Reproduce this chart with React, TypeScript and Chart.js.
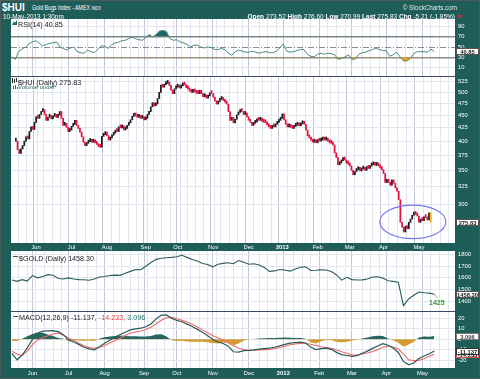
import { useEffect, useRef } from "react";
import { Chart, registerables } from "chart.js";
Chart.register(...registerables);

const FONT = '"Liberation Sans", Arial, sans-serif';
const TEAL = "#1f5d59";

// ---- trading-day axis (index 0 = 15-May-2012) ----
const monthStarts = [12, 33, 54, 77, 96, 117, 138, 158, 179, 198, 218, 239];
const monthLabels = ["Jun", "Jul", "Aug", "Sep", "Oct", "Nov", "Dec", "2013", "Feb", "Mar", "Apr", "May"];
const xMin = -0.5;
const xMax = 258;

// ---- $HUI daily closes ----
const huiClose = [
  400, 385, 378, 386, 392, 400, 408, 404, 418, 427,
  422, 436, 447, 444, 452, 458, 462, 452, 440, 446,
  450, 443, 448, 452, 446, 451, 458, 444, 430, 434,
  426, 418, 421, 428, 432, 440, 430, 424, 417, 408,
  398, 392, 396, 399, 402, 398, 400, 397, 394, 390,
  389, 409, 412, 417, 410, 402, 406, 411, 415, 420,
  418, 427, 425, 429, 421, 424, 430, 435, 441, 448,
  453, 449, 446, 450, 444, 447, 441, 444, 452, 458,
  468, 477, 470, 474, 486, 500, 517, 512, 518, 521,
  524, 516, 505, 497, 508, 512, 517, 510, 515, 519,
  517, 511, 508, 503, 500, 506, 501, 498, 497, 505,
  497, 490, 494, 487, 492, 498, 497, 489, 481, 474,
  480, 484, 487, 482, 478, 474, 458, 440, 446, 435,
  442, 451, 456, 462, 458, 452, 455, 447, 440, 436,
  430, 434, 437, 442, 440, 444, 438, 436, 435, 431,
  427, 424, 429, 427, 432, 436, 440, 444, 453, 441,
  432, 427, 429, 426, 424, 428, 430, 432, 429, 433,
  435, 432, 421, 410, 406, 402, 398, 401, 397, 403,
  400, 402, 405, 402, 404, 400, 397, 396, 393, 379,
  371, 359, 362, 366, 370, 367, 362, 360, 357, 350,
  343, 348, 351, 355, 349, 352, 354, 350, 356, 353,
  357, 359, 361, 358, 362, 357, 354, 351, 345, 331,
  336, 331, 327, 335, 330, 323, 318, 306, 276, 270,
  264, 271, 268, 276, 280, 285, 289, 286, 284, 276,
  280, 278, 283, 282, 279, 288, 275.83,
];
const huiOpen = 273.52;
const huiHigh = 276.6;
const huiLow = 270.99;
const huiChg = -5.21;
const huiChgPct = -1.85;
const priceTicks = [300, 325, 350, 375, 400, 425, 450, 475, 500, 525];
const priceMin = 251;
const priceMax = 538.9;
const ellipseDays = [215.8, 255];
const ellipseValues = [256, 298.6];

// ---- RSI(14), one value every 2 trading days ----
const rsiStep = 2;
const rsi14 = [
  31, 26, 42, 46, 50, 56, 60, 62, 57, 52,
  55, 57, 58, 60, 50, 47, 44, 48, 50, 41,
  39, 38, 44, 41, 39, 45, 52, 52, 47, 54,
  58, 59, 62, 63, 66, 69, 66, 64, 63, 68,
  74, 69, 74, 81, 82, 80, 66, 63, 64, 60,
  58, 55, 50, 53, 54, 50, 48, 50, 49, 45,
  45, 47, 45, 38, 34, 41, 44, 42, 40, 40,
  42, 40, 38, 40, 41, 39, 39, 42, 48, 56,
  42, 40, 41, 43, 45, 45, 36, 32, 31, 36,
  38, 36, 38, 37, 35, 26, 28, 31, 35, 26,
  27, 36, 39, 40, 43, 45, 48, 45, 43, 43,
  32, 35, 40, 31, 23, 23, 28, 37, 41, 41,
  41, 40, 46, 40.85,
];
const rsiTicks = [10, 30, 50, 70, 90];

// ---- $GOLD and MACD, one value every 3 trading days ----
const lineStep = 3;
const gold = [
  1582, 1570, 1585, 1572, 1620, 1600, 1612, 1628, 1622, 1595,
  1590, 1600, 1590, 1585, 1584, 1580, 1590, 1608, 1612, 1620,
  1624, 1622, 1640, 1656, 1672, 1670, 1700, 1733, 1760, 1770,
  1774, 1777, 1783, 1795, 1777, 1758, 1746, 1724, 1716, 1695,
  1718, 1725, 1730, 1722, 1750, 1735, 1718, 1722, 1712, 1690,
  1656, 1660, 1672, 1668, 1658, 1676, 1692, 1695, 1664, 1666,
  1670, 1668, 1655, 1625, 1580, 1605, 1585, 1582, 1583, 1590,
  1608, 1610, 1598, 1575, 1570, 1562, 1360, 1418, 1450, 1478,
  1472, 1468, 1458.3,
];
const goldTicks = [1400, 1500, 1600, 1700, 1800];
const goldTargetDays = [246, 248];
const goldTarget = [1458.3, 1425];

const macdLine = [
  -13.3, -19.5, -15, -8, 0, 5.9, 7.8, 8, 8.3, 7.3,
  4.5, -0.5, -2.5, -4.8, -7.6, -9.1, -10, -7, -3.8, -0.8,
  1.9, 4.6, 6.8, 9, 9.9, 10.6, 12, 14.6, 19.5, 23,
  23.3, 20.2, 18, 16.8, 14.5, 12.2, 9.5, 6.7, 3.5, -0.2,
  -2.5, -3.9, -6.5, -11.8, -12.2, -10.7, -10.5, -10, -9.3, -8.8,
  -8.4, -7.5, -6.2, -4.8, -3.6, -3, -2.6, -3.5, -7.4, -9.8,
  -8.8, -8.4, -9.5, -12.4, -14.5, -15.4, -16.2, -15.5, -13.2, -11.2,
  -8.6, -6.4, -4.2, -5.6, -8.2, -12.5, -21, -24.3, -22.5, -18.3,
  -15.8, -13.8, -11.137,
];
const signalLine = [
  -11.4, -14, -15.5, -11, -5, -0.5, 1.5, 3.5, 5, 6,
  4, 1.4, -1.2, -3.6, -6.2, -7.9, -8.5, -7.8, -5.8, -3.5,
  -1.2, 1, 3.6, 6, 7, 8, 9.4, 11.5, 14.8, 18.2,
  20.5, 21, 19.6, 18.2, 16.5, 14.4, 11.8, 9, 6.3, 3.4,
  1.5, -0.8, -3.4, -6.2, -8.3, -9.7, -10.4, -10.3, -10, -9.8,
  -9.6, -8.8, -7.7, -6.6, -5.1, -4.3, -3.8, -4, -4.6, -5.8,
  -7, -7.7, -8.6, -10.2, -11.8, -13.2, -15, -15, -14, -13,
  -11.5, -9.8, -7.5, -6.4, -7.4, -9.2, -14, -19.5, -20.3, -20,
  -18.5, -16.2, -14.233,
];
const macdHist = [
  -1.5, -1.5, 0.5, 3, 5, 6.4, 6.3, 4.5, 3.3, 1.3,
  0.5, -1.9, -1.3, -1.2, -1.4, -1.2, -1.5, 0.8, 2, 2.7,
  3.1, 3.6, 3.2, 3, 2.9, 2.6, 2.6, 3.1, 4.7, 4.8,
  2.8, -0.8, -1.6, -1.4, -2, -2.2, -2.3, -2.3, -2.8, -3.6,
  -4, -3.1, -3.1, -5.6, -3.9, -1, -0.1, 0.3, 0.7, 1,
  1.2, 1.3, 1.5, 1.8, 1.5, 1.3, 1.2, 0.5, -2.8, -4,
  -1.8, -0.7, -0.9, -2.2, -2.7, -2.2, -1.2, -0.5, 0.8, 1.8,
  2.9, 3.4, 3.3, 0.8, -0.8, -3.3, -7, -4.8, -2.2, 1.7,
  2.7, 2.4, 3.096,
];
const macdTicks = [-20, -10, 0, 10, 20];

// ---------------------------------------------------------------------------
const last = <T,>(a: T[]) => a[a.length - 1];

function xAxis(showLabels: boolean, height: number, pad: number): any {
  return {
    type: "linear",
    min: xMin,
    max: xMax,
    afterBuildTicks: (s: any) => {
      const t: number[] = [...monthStarts];
      for (let v = 4; v < xMax; v += 5) if (!monthStarts.some((m) => Math.abs(m - v) < 2)) t.push(v);
      s.ticks = t.sort((a, b) => a - b).map((value) => ({ value }));
    },
    grid: {
      drawTicks: false,
      color: (c: any) => (c.tick && monthStarts.includes(c.tick.value) ? "#c2c6d8" : "#e3e5ef"),
      lineWidth: 1,
    },
    border: { display: false },
    ticks: {
      display: showLabels,
      autoSkip: false,
      maxRotation: 0,
      minRotation: 0,
      padding: pad,
      color: "#ffffff",
      font: (c: any) => ({
        size: 5.8,
        family: FONT,
        weight: c.tick && monthLabels[monthStarts.indexOf(c.tick.value)] === "2013" ? "bold" : "normal",
      }),
      callback: (v: number) => {
        const k = monthStarts.indexOf(v);
        return k >= 0 ? monthLabels[k] : "";
      },
    },
    afterFit: (s: any) => {
      s.height = height;
      s.paddingLeft = 0;
      s.paddingRight = 0;
    },
  };
}

function yAxis(type: string, min: number, max: number, ticks: number[], gridColor?: any, gridWidth?: any): any {
  return {
    type,
    position: "right",
    min,
    max,
    afterBuildTicks: (s: any) => {
      s.ticks = ticks.map((value) => ({ value }));
    },
    grid: { drawTicks: false, color: gridColor || "#e3e5ef", lineWidth: gridWidth || 1 },
    border: { display: false },
    ticks: {
      color: "#ffffff",
      padding: 3,
      font: { size: 5.8, family: FONT },
      callback: (v: number) => String(v),
    },
    afterFit: (s: any) => {
      s.width = 25;
      s.paddingTop = 0;
      s.paddingBottom = 0;
    },
  };
}

type Box = { value: number; text: string; stroke: string; color: string };

function panelPlugin(topLine: boolean, boxes: Box[], extra?: (chart: any) => void): any {
  return {
    id: "panel",
    beforeDraw(chart: any) {
      const { ctx, chartArea: a } = chart;
      ctx.save();
      ctx.fillStyle = "#ffffff";
      ctx.fillRect(a.left, a.top, a.right - a.left, a.bottom - a.top);
      ctx.restore();
    },
    afterDatasetsDraw(chart: any) {
      if (extra) extra(chart);
    },
    afterDraw(chart: any) {
      const { ctx, chartArea: a, scales } = chart;
      ctx.save();
      if (topLine) {
        ctx.strokeStyle = "#3b4868";
        ctx.lineWidth = 1;
        ctx.beginPath();
        ctx.moveTo(a.left, a.top + 0.5);
        ctx.lineTo(a.right, a.top + 0.5);
        ctx.stroke();
      }
      for (const b of boxes) {
        const py = scales.y.getPixelForValue(b.value);
        const w = 23;
        const h = 7;
        const x0 = a.right + 1;
        const y0 = Math.round(py - h / 2);
        ctx.fillStyle = "#ffffff";
        ctx.fillRect(x0, y0, w, h);
        ctx.strokeStyle = b.stroke;
        ctx.lineWidth = 1;
        ctx.strokeRect(x0 + 0.5, y0 + 0.5, w - 1, h - 1);
        ctx.fillStyle = b.color;
        ctx.font = `bold 5.8px ${FONT}`;
        ctx.textAlign = "center";
        ctx.textBaseline = "middle";
        ctx.fillText(b.text, x0 + w / 2, y0 + h / 2 + 0.5);
      }
      ctx.restore();
    },
  };
}

const baseOptions = (scales: any, padLeft = 11): any => ({
  responsive: false,
  animation: false,
  events: [],
  layout: { padding: { left: padLeft, right: 0, top: 0, bottom: 0 } },
  plugins: { legend: { display: false }, tooltip: { enabled: false } },
  scales,
});

export default function App() {
  const rsiRef = useRef<HTMLCanvasElement>(null);
  const priceRef = useRef<HTMLCanvasElement>(null);
  const goldRef = useRef<HTMLCanvasElement>(null);
  const macdRef = useRef<HTMLCanvasElement>(null);

  useEffect(() => {
    const rsiPts = rsi14.map((v, k) => ({ x: k * rsiStep, y: v }));
    const rsiChart = new Chart(rsiRef.current as HTMLCanvasElement, {
      type: "line",
      data: {
        datasets: [
          {
            data: rsiPts,
            borderColor: "#4a8a84",
            borderWidth: 1,
            pointRadius: 0,
            tension: 0,
            order: 0,
            fill: { target: { value: 70 }, above: "#1d6a62", below: "rgba(0,0,0,0)" },
          } as any,
          {
            data: rsiPts,
            borderWidth: 0,
            borderColor: "rgba(0,0,0,0)",
            pointRadius: 0,
            order: 1,
            fill: { target: { value: 30 }, above: "rgba(0,0,0,0)", below: "#eba420" },
          } as any,
        ],
      },
      options: baseOptions({
        x: xAxis(false, 0, 0),
        y: yAxis(
          "linear",
          -6,
          104,
          rsiTicks,
          (c: any) => (c.tick && (c.tick.value === 30 || c.tick.value === 70) ? "#8c8c8c" : c.tick && c.tick.value === 50 ? "rgba(0,0,0,0)" : "#e3e5ef"),
          (c: any) => (c.tick && (c.tick.value === 30 || c.tick.value === 70) ? 1.5 : 1)
        ),
      }),
      plugins: [
        panelPlugin(false, [{ value: last(rsi14), text: last(rsi14).toFixed(2), stroke: "#555", color: "#222" }], undefined),
        {
          id: "mid",
          beforeDatasetsDraw(chart: any) {
            const { ctx, chartArea: a, scales } = chart;
            const y = Math.round(scales.y.getPixelForValue(50)) + 0.5;
            ctx.save();
            ctx.strokeStyle = "#8c8c8c";
            ctx.lineWidth = 1;
            ctx.setLineDash([6, 2, 1, 2]);
            ctx.beginPath();
            ctx.moveTo(a.left, y);
            ctx.lineTo(a.right, y);
            ctx.stroke();
            ctx.restore();
          },
        } as any,
      ],
    });

    const barData = huiClose.map((c, i) => ({ x: i, y: [i > 0 ? huiClose[i - 1] : c, c] }));
    const barColors = huiClose.map((c, i) =>
      i === huiClose.length - 1 ? "#f2b422" : i > 0 && c < huiClose[i - 1] ? "#e2103e" : "#1c1c1c"
    );
    const priceChart = new Chart(priceRef.current as HTMLCanvasElement, {
      type: "bar",
      data: {
        datasets: [
          {
            data: barData as any,
            backgroundColor: barColors,
            borderWidth: 0,
            barThickness: 1.1,
            minBarLength: 3,
            grouped: false,
          } as any,
        ],
      },
      options: baseOptions({
        x: xAxis(true, 8, 1),
        y: yAxis("logarithmic", priceMin, priceMax, priceTicks),
      }),
      plugins: [
        panelPlugin(true, [{ value: last(huiClose), text: last(huiClose).toFixed(2), stroke: "#555", color: "#222" }], (chart: any) => {
          const { ctx, scales } = chart;
          const x1 = scales.x.getPixelForValue(ellipseDays[0]);
          const x2 = scales.x.getPixelForValue(ellipseDays[1]);
          const y1 = scales.y.getPixelForValue(ellipseValues[1]);
          const y2 = scales.y.getPixelForValue(ellipseValues[0]);
          ctx.save();
          ctx.strokeStyle = "#7377ee";
          ctx.lineWidth = 1.2;
          ctx.beginPath();
          ctx.ellipse((x1 + x2) / 2, (y1 + y2) / 2, (x2 - x1) / 2, (y2 - y1) / 2, 0, 0, Math.PI * 2);
          ctx.stroke();
          ctx.restore();
        }),
      ],
    });

    const goldPts = gold.map((v, k) => ({ x: k * lineStep, y: v }));
    const goldTargetPts = goldTargetDays.map((d, k) => ({ x: d, y: goldTarget[k] }));
    const goldChart = new Chart(goldRef.current as HTMLCanvasElement, {
      type: "line",
      data: {
        datasets: [
          { data: goldPts, borderColor: "#2b5e59", borderWidth: 1.1, pointRadius: 0, tension: 0 },
          { data: goldTargetPts, borderColor: "#7fd070", borderWidth: 1, pointRadius: 0, tension: 0 },
        ],
      },
      options: baseOptions({
        x: xAxis(false, 0, 0),
        y: yAxis("linear", 1314, 1832, goldTicks),
      }),
      plugins: [
        panelPlugin(false, [{ value: last(gold), text: last(gold).toFixed(2), stroke: "#555", color: "#222" }], (chart: any) => {
          const { ctx, scales } = chart;
          const x = scales.x.getPixelForValue(goldTargetDays[1]);
          const y = scales.y.getPixelForValue(goldTarget[1]);
          ctx.save();
          ctx.fillStyle = "#2f9f2f";
          ctx.font = `bold 7px ${FONT}`;
          ctx.textAlign = "center";
          ctx.textBaseline = "middle";
          ctx.fillText(String(goldTarget[1]), x - 1, y + 5);
          ctx.restore();
        }),
      ],
    });

    const histPts = macdHist.map((v, k) => ({ x: k * lineStep, y: v }));
    const macdPts = macdLine.map((v, k) => ({ x: k * lineStep, y: v }));
    const sigPts = signalLine.map((v, k) => ({ x: k * lineStep, y: v }));
    const macdChart = new Chart(macdRef.current as HTMLCanvasElement, {
      type: "line",
      data: {
        datasets: [
          {
            data: histPts,
            borderWidth: 0,
            borderColor: "rgba(0,0,0,0)",
            pointRadius: 0,
            order: 3,
            fill: { target: "origin", above: "#26675f", below: "#d69a2c" },
          } as any,
          { data: sigPts, borderColor: "#f06a6a", borderWidth: 1.1, pointRadius: 0, order: 2 },
          { data: macdPts, borderColor: "#2b5a56", borderWidth: 1.2, pointRadius: 0, order: 1 },
        ],
      },
      options: baseOptions({
        x: xAxis(true, 11, 2),
        y: yAxis("linear", -27.3, 27, macdTicks),
      }),
      plugins: [
        panelPlugin(true, [
          { value: last(macdHist), text: last(macdHist).toFixed(3), stroke: "#777", color: "#444" },
          { value: last(signalLine), text: last(signalLine).toFixed(3), stroke: "#e05050", color: "#222" },
          { value: last(macdLine), text: last(macdLine).toFixed(3), stroke: "#333", color: "#222" },
        ]),
      ],
    });

    return () => {
      rsiChart.destroy();
      priceChart.destroy();
      goldChart.destroy();
      macdChart.destroy();
    };
  }, []);

  const abs = (s: any): any => ({ position: "absolute", whiteSpace: "nowrap", lineHeight: 1, ...s });
  const legendFont = `7.2px ${FONT}`;

  return (
    <div style={{ position: "absolute", left: 0, top: 0, width: 480, height: 379, background: TEAL, overflow: "hidden", fontFamily: FONT, boxSizing: "border-box", border: "1px solid #4c5a5a" }}>
      <canvas ref={rsiRef} width={480} height={57} style={abs({ left: -1, top: 18 })} />
      <canvas ref={priceRef} width={480} height={175} style={abs({ left: -1, top: 75 })} />
      <canvas ref={goldRef} width={480} height={60} style={abs({ left: -1, top: 250 })} />
      <canvas ref={macdRef} width={480} height={68} style={abs({ left: -1, top: 310 })} />

      {/* header */}
      <div style={abs({ left: 1, top: 1, font: `bold 10px ${FONT}`, color: "#fff" })}>$HUI</div>
      <div style={abs({ left: 31, top: 2.5, font: `6.4px ${FONT}`, color: "#fff", transform: "scaleX(0.82)", transformOrigin: "left top" })}>
        Gold Bugs Index - AMEX <span style={{ fontSize: 4.8 }}>INDX</span>
      </div>
      <div style={abs({ left: 2, top: 11.5, font: `6.4px ${FONT}`, color: "#fff" })}>10-May-2013 1:30pm</div>
      <div style={abs({ right: 22, top: 2.5, font: `6.3px ${FONT}`, color: "#e4ecea" })}>© StockCharts.com</div>
      <div style={abs({ right: 24, top: 11.5, font: `6.5px ${FONT}`, color: "#fff" })}>
        <b>Open</b> {huiOpen.toFixed(2)} <b>High</b> {huiHigh.toFixed(2)} <b>Low</b> {huiLow.toFixed(2)} <b>Last</b>{" "}
        {last(huiClose).toFixed(2)} <b>Chg</b> {huiChg.toFixed(2)} ({huiChgPct.toFixed(2)}%)
      </div>
      <svg width={5} height={4} style={abs({ left: 456, top: 13.5 })}>
        <polygon points="0,0 5,0 2.5,4" fill="#e0203a" />
      </svg>

      {/* RSI legend */}
      <svg width={5} height={5} style={abs({ left: 11, top: 19 })}>
        <polygon points="0,5 2,1 3,3 5,0 5,5" fill="#1d6a62" />
      </svg>
      <div style={abs({ left: 17, top: 18.5, font: legendFont, color: "#222" })}>RSI(14) {last(rsi14).toFixed(2)}</div>

      {/* price legend */}
      <svg width={5} height={5} style={abs({ left: 11, top: 77 })}>
        <rect x={0} y={0} width={1} height={5} fill="#222" />
        <rect x={2} y={1} width={1} height={4} fill="#222" />
        <rect x={4} y={0} width={1} height={4} fill="#222" />
      </svg>
      <div style={abs({ left: 17, top: 76.5, font: legendFont, color: "#222" })}>$HUI (Daily) {last(huiClose).toFixed(2)}</div>
      <svg width={5} height={4} style={abs({ left: 12, top: 83.5 })}>
        <rect x={0} y={1} width={1} height={3} fill="#2a6a64" />
        <rect x={2} y={0} width={1} height={4} fill="#2a6a64" />
        <rect x={4} y={2} width={1} height={2} fill="#2a6a64" />
      </svg>
      <div style={abs({ left: 17, top: 82.5, font: `6px ${FONT}`, color: "#2a6a64" })}>Volume undef</div>

      {/* gold legend */}
      <div style={abs({ left: 12, top: 255, width: 5, height: 1.3, background: "#2b5e59" })} />
      <div style={abs({ left: 18, top: 252.5, font: legendFont, color: "#222" })}>$GOLD (Daily) {last(gold).toFixed(2)}</div>

      {/* MACD legend */}
      <div style={abs({ left: 12, top: 315, width: 5, height: 1.3, background: "#2b5a56" })} />
      <div style={abs({ left: 18, top: 312, font: legendFont, color: "#222" })}>
        MACD(12,26,9) {last(macdLine).toFixed(3)}, <span style={{ color: "#e04a4a" }}>{last(signalLine).toFixed(3)},</span>{" "}
        <span style={{ color: "#26756c" }}>{last(macdHist).toFixed(3)}</span>
      </div>
    </div>
  );
}
